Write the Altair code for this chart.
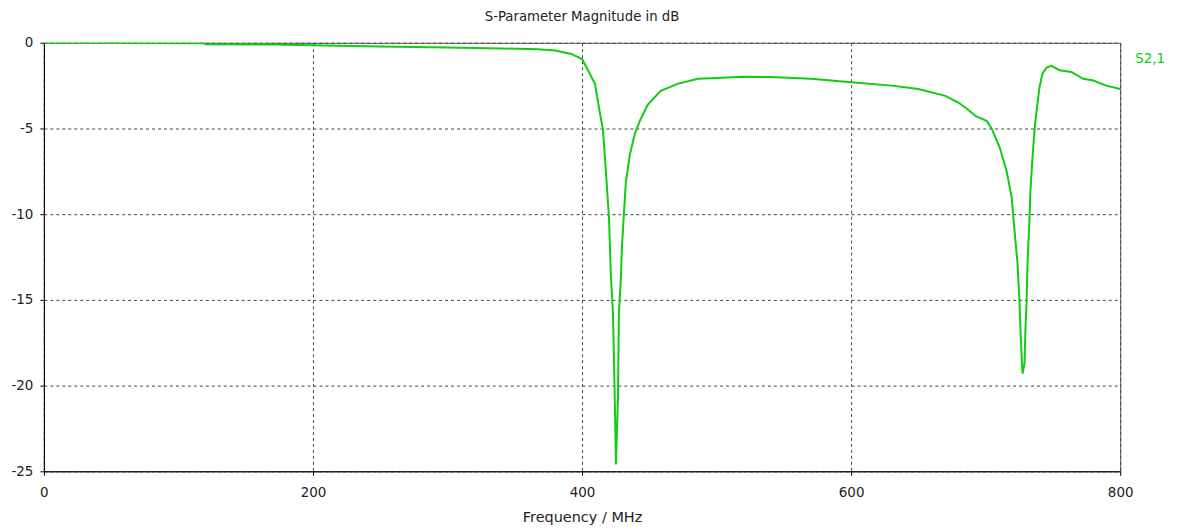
import altair as alt
import pandas as pd

freq = [0, 50, 100, 119, 120, 170, 200, 250, 300, 340, 367, 380, 392, 400, 404.4, 409.6, 413.3,
        415.6, 417.8, 420, 421.5, 423, 423.7, 424.4, 425.2, 426.7, 427.4, 428.9, 429.6, 431.1,
        432.6, 435.6, 439.3, 443, 448.9, 458.5, 471, 486, 500, 520, 540, 570, 600, 630, 650,
        670, 680, 686, 693, 700.7, 704.4, 710.4, 715.6, 719.3, 721.5, 723.7, 725.2, 726, 727.4,
        728.9, 729.5, 730.4, 731.1, 732.6, 733.3, 734.8, 736.3, 737.8, 740, 742.2, 745.2,
        748.9, 754.8, 763.7, 772.6, 780, 789.6, 800]
s21 = [0, -0.02, -0.03, -0.03, -0.08, -0.1, -0.15, -0.22, -0.28, -0.33, -0.38, -0.45, -0.65,
       -0.95, -1.6, -2.4, -4.1, -5.1, -7.6, -10.2, -13.7, -15.8, -18.4, -21.1, -24.6, -20.7,
       -15.8, -13.7, -12, -10, -8.1, -6.5, -5.3, -4.55, -3.6, -2.8, -2.4, -2.1, -2.05, -1.98,
       -2.0, -2.1, -2.3, -2.5, -2.7, -3.1, -3.5, -3.85, -4.3, -4.55, -5.0, -6.1, -7.5, -9,
       -11, -12.9, -15.2, -17, -19.3, -18.7, -16.8, -15.2, -12.9, -10.2, -8.6, -6.7, -5.1,
       -4.0, -2.6, -1.8, -1.45, -1.35, -1.6, -1.7, -2.1, -2.2, -2.5, -2.7]

series_label = "S2,1"
title_text = "S-Parameter Magnitude in dB"
x_title = "Frequency / MHz"
x_ticks = [0, 200, 400, 600, 800]
y_ticks = [-25, -20, -15, -10, -5, 0]

df = pd.DataFrame({"f": freq, "db": s21})

FONT = "DejaVu Sans"
GREEN = "#11cc11"

base = alt.Chart(df)

line = base.mark_line(color=GREEN, strokeWidth=2, clip=True).encode(
    x=alt.X("f:Q", scale=alt.Scale(domain=[0, 800], nice=False),
            axis=alt.Axis(values=x_ticks, title=x_title, grid=True, gridDash=[3, 3],
                          gridColor="#444", gridOpacity=1, domainColor="#000",
                          tickColor="#000", tickSize=4, labelPadding=10,
                          titlePadding=12, labelFlush=False, titleFontSize=14.5)),
    y=alt.Y("db:Q", scale=alt.Scale(domain=[-25, 0], nice=False),
            axis=alt.Axis(values=y_ticks, title=None, grid=True, gridDash=[3, 3],
                          gridColor="#444", gridOpacity=1, domainColor="#000",
                          tickColor="#000", tickSize=4, labelPadding=7,
                          labelExpr="toString(datum.value)")),
)

lab = alt.Chart(pd.DataFrame({"t": [series_label]})).mark_text(
    align="left", baseline="middle", color=GREEN, font=FONT, fontSize=13.5
).encode(text="t:N", x=alt.value(1095), y=alt.value(16))

chart = alt.layer(line, lab).properties(
    width=1080, height=430,
    title=alt.TitleParams(title_text, anchor="middle", fontSize=13.3, font=FONT,
                          fontWeight="normal", color="#222", offset=13),
    autosize=alt.AutoSizeParams(type="none"),
    padding={"left": 36, "top": 34, "right": 60, "bottom": 56},
).configure_view(stroke="#555", strokeWidth=1).configure_axis(
    labelFont=FONT, titleFont=FONT, labelFontSize=13.5, titleFontSize=14,
    labelColor="#222", titleColor="#222", titleFontWeight="normal"
)

chart.save("out.html", embed_options={"renderer": "svg", "actions": False})
